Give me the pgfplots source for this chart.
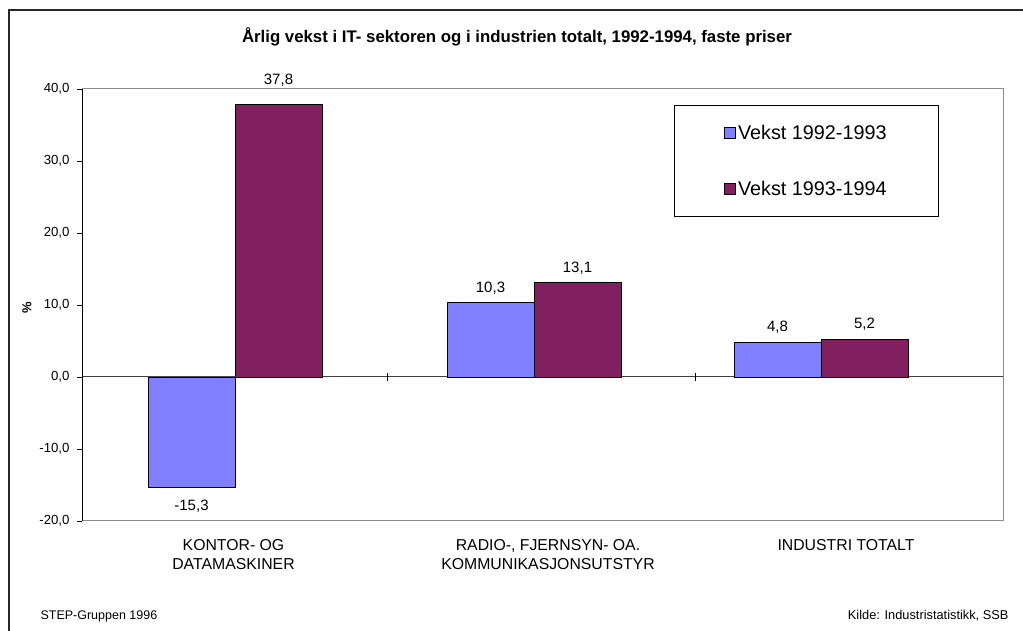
\documentclass[border=0pt]{standalone}
\usepackage{pgfplots}
\pgfplotsset{compat=1.18}
\usepackage{fontspec}
\setmainfont{Liberation Sans}
\definecolor{vblue}{RGB}{128,128,255}
\definecolor{vpurple}{RGB}{128,32,96}
\begin{document}
\begin{tikzpicture}[x=1pt,y=1pt]
\path[use as bounding box] (0,0) rectangle (1023,631);
% outer chart frame
\draw[line width=1.3pt, black!85] (9,-2) -- (9,621) -- (1025,621);
\begin{axis}[
  at={(82pt,110pt)}, anchor=south west,
  scale only axis, width=921pt, height=432pt,
  xmin=82, xmax=1003, ymin=-20, ymax=40,
  ybar=0pt, bar width=87,
  axis line style={draw=black!45, line width=1pt},
  /pgf/number format/assume math mode=true,
  ytick={-20,-10,...,40},
  yticklabel style={font=\fontsize{13.2}{14}\selectfont, xshift=-4pt,
    /pgf/number format/.cd, fixed, fixed zerofill, precision=1, use comma},
  ytick pos=left, tick align=outside, major tick length=5pt,
  y tick style={black, line width=0.8pt},
  xtick={233.5,548,846},
  xticklabels={{KONTOR- OG\\DATAMASKINER},{RADIO-, FJERNSYN- OA.\\KOMMUNIKASJONSUTSTYR},{INDUSTRI TOTALT}},
  xticklabel style={align=center, yshift=-10pt, font=\fontsize{15.8}{19}\selectfont},
  major x tick style={draw=none},
  visualization depends on={rawy \as \ry},
  nodes near coords={\pgfmathprintnumber[fixed,fixed zerofill,precision=1,use comma]{\pgfplotspointmeta}},
  nodes near coords style={font=\fontsize{15}{15}\selectfont,
    yshift={(\ry<0) ? -9 : ((\ry>30) ? 15 : 5)}},
  legend style={at={(0.6428,0.963)}, anchor=north west, draw=black, line width=0.8pt,
    font=\fontsize{19.8}{19.8}\selectfont, inner xsep=50pt, inner ysep=17.5pt,
    row sep=36pt},
  legend cell align=left,
  legend image code/.code={\draw[#1,draw=black,line width=0.6pt] (0pt,-5.5pt) rectangle (11pt,5.5pt);},
]
\draw[black!75, line width=1pt] (axis cs:82,0) -- (axis cs:1003,0);
\draw[black, line width=0.8pt] ([yshift=-4pt]axis cs:387,0) -- ([yshift=4pt]axis cs:387,0);
\draw[black, line width=0.8pt] ([yshift=-4pt]axis cs:695,0) -- ([yshift=4pt]axis cs:695,0);
\addplot[fill=vblue, draw=black, line width=0.8pt] coordinates {(235,-15.3) (534,10.3) (821,4.8)};
\addplot[fill=vpurple, draw=black, line width=0.8pt] coordinates {(235,37.8) (534,13.1) (821,5.2)};
\legend{Vekst 1992-1993, Vekst 1993-1994}
\draw[black, line width=1pt] (rel axis cs:0,0) -- (rel axis cs:0,1);
\end{axis}
\node[font=\bfseries\fontsize{16.8}{17}\selectfont] at (517,594) {Årlig vekst i IT- sektoren og i industrien totalt, 1992-1994, faste priser};
\node[rotate=90, font=\bfseries\fontsize{13}{13}\selectfont] at (27,323) {\%};
\node[anchor=base west, font=\fontsize{12.5}{13}\selectfont] at (37,11) {STEP-Gruppen 1996};
\node[anchor=base east, font=\fontsize{12.8}{13}\selectfont] at (1012,11) {Kilde: Industristatistikk, SSB};
\end{tikzpicture}
\end{document}
